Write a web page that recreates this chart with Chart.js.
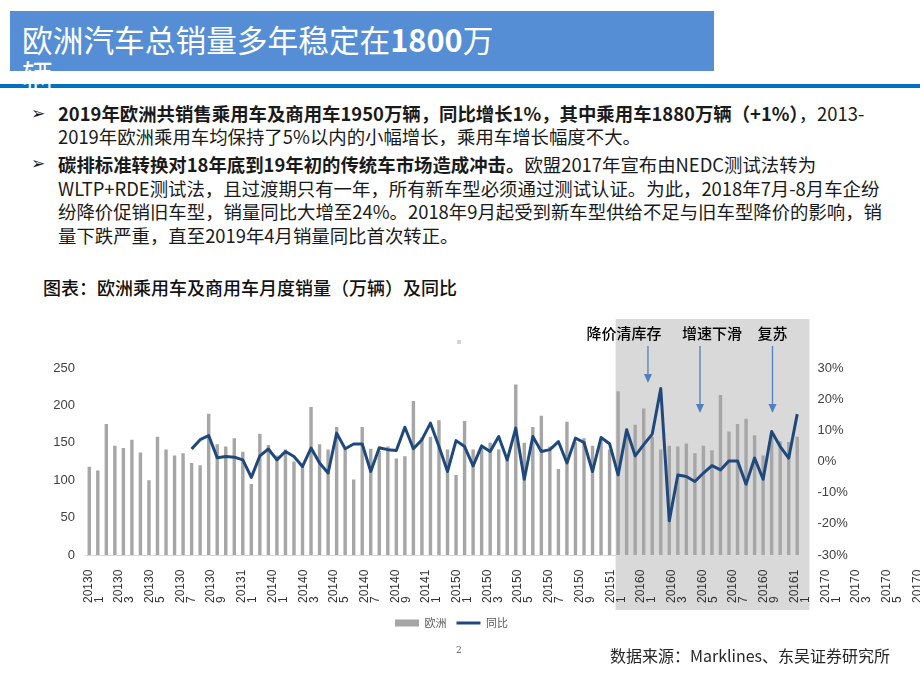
<!DOCTYPE html>
<html lang="zh-CN">
<head>
<meta charset="utf-8">
<title>欧洲汽车总销量多年稳定在1800万辆</title>
<script src="https://cdn.jsdelivr.net/npm/chart.js@4.4.1/dist/chart.umd.min.js"></script>
<style>
  html, body { margin: 0; padding: 0; background: #fff; }
  #page {
    position: relative; width: 920px; height: 690px; overflow: hidden;
    font-family: "Noto Sans CJK SC", sans-serif; color: #1a1a1a;
  }
  .title-box { position: absolute; left: 10px; top: 11px; width: 704px; height: 60px; background: #558ed5; }
  .title-text {
    position: absolute; left: 22px; top: 21px; z-index: 3;
    font-size: 30.7px; line-height: 35px; color: #fff; white-space: nowrap;
  }
  .rule { position: absolute; left: 0; top: 84px; width: 920px; height: 4px; background: #0070c0; z-index: 2; }
  .para { position: absolute; left: 58px; font-size: 18.4px; white-space: nowrap; }
  .para b { font-weight: 700; }
  .bullet { position: absolute; left: 31px; font-size: 17px; line-height: 22px; font-family: "DejaVu Sans", sans-serif; }
  .chart-title { position: absolute; left: 43px; top: 276px; font-size: 18px; line-height: 22px; color: #111; font-weight: 500; }
  .dot { position: absolute; left: 457px; top: 340px; width: 4px; height: 4px; background: #d4d4d4; }
  .page-no { position: absolute; left: 456px; top: 645px; font-size: 9px; color: #555; font-family: "DejaVu Serif", serif; }
  .source { position: absolute; left: 610px; top: 644px; font-size: 16px; line-height: 22px; color: #262626; }
  #chartBox { position: absolute; left: 0; top: 310px; width: 920px; height: 340px; }
</style>
</head>
<body>
<div id="page">
  <div class="title-box"></div>
  <div class="rule"></div>
  <div class="title-text">欧洲汽车总销量多年稳定在<b>1800</b>万<br>辆</div>

  <div class="bullet" style="top:102px;">➢</div>
  <div class="para" style="top:102px; line-height:23px;">
    <b>2019年欧洲共销售乘用车及商用车1950万辆，同比增长1%，其中乘用车1880万辆（+1%）</b>，2013-<br>
    2019年欧洲乘用车均保持了5%以内的小幅增长，乘用车增长幅度不大。
  </div>

  <div class="bullet" style="top:152px;">➢</div>
  <div class="para" style="top:153px; line-height:23.7px;">
    <b>碳排标准转换对18年底到19年初的传统车市场造成冲击。</b>欧盟2017年宣布由NEDC测试法转为<br>
    WLTP+RDE测试法，且过渡期只有一年，所有新车型必须通过测试认证。为此，2018年7月-8月车企纷<br>
    纷降价促销旧车型，销量同比大增至24%。2018年9月起受到新车型供给不足与旧车型降价的影响，销<br>
    量下跌严重，直至2019年4月销量同比首次转正。
  </div>

  <div class="chart-title">图表：欧洲乘用车及商用车月度销量（万辆）及同比</div>
  <div class="dot"></div>

  <div id="chartBox"><canvas id="salesChart"></canvas></div>

  <div class="page-no">2</div>
  <div class="source">数据来源：Marklines、东吴证券研究所</div>
</div>

<script>
// 月度销量（万辆），2013年1月 - 2019年12月
const europeSales = [
  118, 113, 175, 146, 143, 154, 137, 100, 158, 141, 133, 136,   // 2013
  123, 120, 189, 148, 145, 156, 138, 95, 162, 147, 133, 141,    // 2014
  125, 119, 198, 148, 141, 171, 142, 101, 171, 142, 139, 145,   // 2015
  129, 132, 206, 157, 158, 180, 141, 107, 179, 141, 146, 150,   // 2016
  141, 133, 228, 150, 171, 186, 145, 115, 178, 151, 156, 146,   // 2017
  153, 141, 219, 165, 174, 196, 158, 141, 146, 145, 149, 136,   // 2018
  146, 140, 214, 165, 175, 182, 160, 133, 160, 152, 151, 158    // 2019
];

// 同比（%），2013年无数据
const yoyGrowth = [
  null, null, null, null, null, null, null, null, null, null, null, null,
  4.0, 7.0, 8.3, 1.2, 1.6, 1.4, 0.5, -5.1, 1.8, 4.0, 0.5, 3.2,
  1.6, -1.6, 4.3, -0.5, -3.7, 9.1, 4.1, 5.6, 5.6, -3.2, 4.4, 3.8,
  3.5, 11.0, 4.1, 7.0, 12.3, 4.8, -3.2, 6.7, 4.8, -1.4, 5.0, 3.2,
  8.0, 0.5, 10.7, -5.7, 8.0, 3.2, 3.8, 6.4, -0.5, 7.5, 6.1, -3.2,
  7.7, 5.7, -4.3, 10.2, 1.8, 5.4, 8.8, 23.4, -19.0, -4.3, -4.8, -6.4,
  -3.7, -1.3, -2.7, 0.2, 0.2, -7.3, 1.1, -5.7, 9.6, 4.8, 1.1, 15.2
];

// 原图横轴标签（与数据错位，照原样保留）
const tickLabels = [
  '201301', '201303', '201305', '201307', '201309', '201311',
  '201401', '201403', '201405', '201407', '201409', '201411',
  '201501', '201503', '201505', '201507', '201509', '201511',
  '201601', '201603', '201605', '201607', '201609', '201611',
  '201701', '201703', '201705', '201707'
];

const seriesNames = ['欧洲', '同比'];

// 注释：文字、箭头位置（按月份序号）
const notes = [
  { text: '降价清库存', textAt: 62.7, arrowAt: 65.5, tipY: 73 },
  { text: '增速下滑', textAt: 73.0, arrowAt: 71.6, tipY: 103 },
  { text: '复苏', textAt: 80.1, arrowAt: 80.1, tipY: 103 }
];
const shadeFrom = 62;   // 阴影区起始月份序号

const months = [];
for (let y = 2013; y <= 2019; y++) {
  for (let m = 1; m <= 12; m++) months.push(y + '-' + String(m).padStart(2, '0'));
}

const slideMarks = {
  id: 'slideMarks',
  beforeDraw(chart) {
    const { ctx, chartArea, scales: { x } } = chart;
    const left = x.getPixelForValue(shadeFrom) - 2.5;
    ctx.save();
    ctx.fillStyle = '#d9d9d9';
    ctx.fillRect(left, 9, chartArea.right + 8 - left, 291);
    ctx.restore();
  },
  afterDraw(chart) {
    const { ctx, scales: { x } } = chart;
    const cat = x.getPixelForValue(1) - x.getPixelForValue(0);
    const x0 = x.getPixelForValue(0) - 1;
    const step = cat * 3.6;

    // 横轴标签：旋转、折成两行
    ctx.save();
    ctx.fillStyle = '#333';
    ctx.font = '12px "Liberation Sans", Arial, sans-serif';
    ctx.textAlign = 'left';
    ctx.textBaseline = 'middle';
    tickLabels.forEach((lab, k) => {
      ctx.save();
      ctx.translate(x0 + k * step, 293);
      ctx.rotate(-Math.PI / 2);
      ctx.fillText(lab.slice(0, 5), 0, 0);
      ctx.fillText(lab.slice(5), 0, 11);
      ctx.restore();
    });
    ctx.restore();

    // 注释文字和箭头
    ctx.save();
    ctx.font = '500 15px "Noto Sans CJK SC", sans-serif';
    ctx.textAlign = 'center';
    ctx.textBaseline = 'middle';
    notes.forEach(n => {
      ctx.fillStyle = '#000';
      ctx.fillText(n.text, x.getPixelForValue(n.textAt), 23);
      const ax = x.getPixelForValue(n.arrowAt);
      ctx.strokeStyle = '#4f81bd';
      ctx.fillStyle = '#4f81bd';
      ctx.lineWidth = 1.3;
      ctx.beginPath();
      ctx.moveTo(ax, 36);
      ctx.lineTo(ax, n.tipY - 8);
      ctx.stroke();
      ctx.beginPath();
      ctx.moveTo(ax - 4, n.tipY - 9);
      ctx.lineTo(ax + 4, n.tipY - 9);
      ctx.lineTo(ax, n.tipY);
      ctx.closePath();
      ctx.fill();
    });
    ctx.restore();
  }
};

const tickFont = { family: '"Liberation Sans", Arial, sans-serif', size: 13 };

new Chart(document.getElementById('salesChart').getContext('2d'), {
  type: 'bar',
  data: {
    labels: months,
    datasets: [
      {
        type: 'line',
        label: seriesNames[1],
        data: yoyGrowth,
        yAxisID: 'y1',
        borderColor: '#1f497d',
        backgroundColor: '#1f497d',
        borderWidth: 3,
        borderJoinStyle: 'round',
        pointRadius: 0,
        pointStyle: 'line',
        tension: 0,
        spanGaps: false,
        order: 0
      },
      {
        label: seriesNames[0],
        data: europeSales,
        yAxisID: 'y',
        backgroundColor: '#a6a6a6',
        borderWidth: 0,
        pointStyle: 'rect',
        categoryPercentage: 1,
        barPercentage: 0.4,
        order: 1
      }
    ]
  },
  options: {
    responsive: true,
    maintainAspectRatio: false,
    animation: false,
    layout: { padding: { top: 58, right: 17, left: 0, bottom: 11.5 } },
    scales: {
      x: {
        grid: { display: false },
        border: { color: '#d9d9d9' },
        ticks: { display: false },
        afterFit: s => { s.height = 52.5; }
      },
      y: {
        position: 'left',
        min: 0,
        max: 250,
        grid: { display: false, drawTicks: false },
        border: { display: false },
        ticks: { stepSize: 50, padding: 10, color: '#404040', font: tickFont },
        afterFit: s => { s.width = 85; }
      },
      y1: {
        position: 'right',
        min: -30,
        max: 30,
        grid: { display: false, drawTicks: false },
        border: { display: false },
        ticks: {
          stepSize: 10, padding: 16, color: '#404040', font: tickFont,
          callback: v => v + '%'
        },
        afterFit: s => { s.width = 101.5; }
      }
    },
    plugins: {
      legend: {
        position: 'bottom',
        reverse: true,
        labels: {
          usePointStyle: true,
          pointStyleWidth: 24,
          boxHeight: 7,
          padding: 10,
          color: '#595959',
          font: { family: '"Noto Sans CJK SC", sans-serif', size: 11 }
        }
      },
      tooltip: { enabled: false }
    }
  },
  plugins: [slideMarks]
});
</script>
</body>
</html>
